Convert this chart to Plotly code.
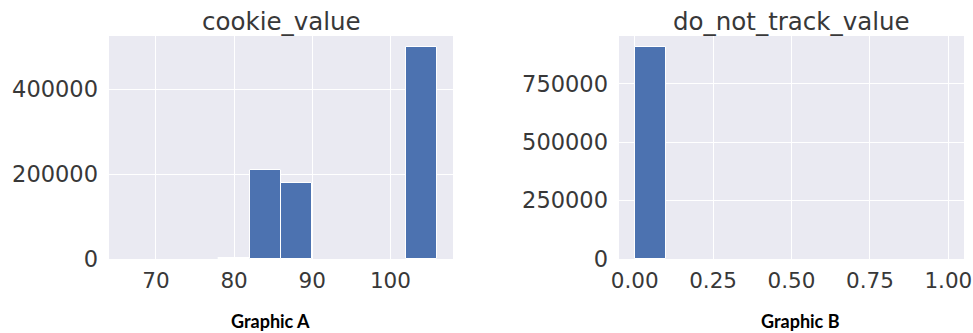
import plotly.graph_objects as go

# Histogram data (bin left edges, bin width, counts)
cookie_bin_left = [66, 70, 74, 78, 82, 86, 90, 94, 98, 102]
cookie_bin_width = 4
cookie_counts = [0, 0, 0, 3000, 211000, 180000, 0, 0, 0, 501000]

dnt_bin_left = [0.0, 0.1, 0.2, 0.3, 0.4, 0.5, 0.6, 0.7, 0.8, 0.9]
dnt_bin_width = 0.1
dnt_counts = [908000, 0, 0, 0, 0, 0, 0, 0, 0, 0]

titles = ["cookie_value", "do_not_track_value"]
captions = ["Graphic A", "Graphic B"]

cookie_yticks = [0, 200000, 400000]
dnt_yticks = [0, 250000, 500000, 750000]
cookie_xticks = [70, 80, 90, 100]
dnt_xticks = [0.0, 0.25, 0.5, 0.75, 1.0]

BAR = "#4C72B0"
BG = "#EAEAF2"
TXT = "#383838"
FONT = "DejaVu Sans"


def edge_widths(counts):
    return [1 if c > 0 else 0 for c in counts]


fig = go.Figure()
fig.add_trace(go.Bar(x=cookie_bin_left, y=cookie_counts, width=cookie_bin_width, offset=0,
                     marker=dict(color=BAR, line=dict(color="white", width=edge_widths(cookie_counts))),
                     xaxis="x", yaxis="y", showlegend=False))
fig.add_trace(go.Bar(x=dnt_bin_left, y=dnt_counts, width=dnt_bin_width, offset=0,
                     marker=dict(color=BAR, line=dict(color="white", width=edge_widths(dnt_counts))),
                     xaxis="x2", yaxis="y2", showlegend=False))

W, H = 973, 333
y_dom = [(H - 259) / H, (H - 36) / H]
x1_dom = [109 / W, 453 / W]
x2_dom = [619 / W, 964 / W]

axis_common = dict(showgrid=True, gridcolor="white", gridwidth=1, zeroline=False,
                   showline=False, ticks="", automargin=False)
yfont = dict(family=FONT, size=22.5, color=TXT)
xfont = dict(family=FONT, size=21.5, color=TXT)

fig.update_layout(
    template="none",
    width=W, height=H, margin=dict(l=0, r=0, t=0, b=0, pad=0),
    paper_bgcolor="white", plot_bgcolor=BG, bargap=0,
    xaxis=dict(domain=x1_dom, range=[64.0, 108.0], tickvals=cookie_xticks, anchor="y",
               ticklabelstandoff=6, tickfont=xfont, **axis_common),
    yaxis=dict(domain=y_dom, range=[0, 526000], tickvals=cookie_yticks, tickformat="d", anchor="x",
               ticklabelstandoff=10, tickfont=yfont, **axis_common),
    xaxis2=dict(domain=x2_dom, range=[-0.05, 1.05], tickvals=dnt_xticks, tickformat=".2f", anchor="y2",
                ticklabelstandoff=6, tickfont=xfont, **axis_common),
    yaxis2=dict(domain=y_dom, range=[0, 954000], tickvals=dnt_yticks, tickformat="d", anchor="x2",
                ticklabelstandoff=10, tickfont=yfont, **axis_common),
)

for i, (dom, t, c, cx) in enumerate(zip([x1_dom, x2_dom], titles, captions, [270, 800])):
    fig.add_annotation(x=(dom[0] + dom[1]) / 2, y=(H - 21) / H, xref="paper", yref="paper",
                       text=t, showarrow=False, xanchor="center", yanchor="middle",
                       font=dict(family=FONT, size=24.5, color=TXT))
    fig.add_annotation(x=cx / W, y=(H - 321) / H, xref="paper", yref="paper",
                       text="<b>" + c + "</b>", showarrow=False, xanchor="center", yanchor="middle",
                       font=dict(family="Lato", size=18, color="black"))

fig.write_html("out.html")
